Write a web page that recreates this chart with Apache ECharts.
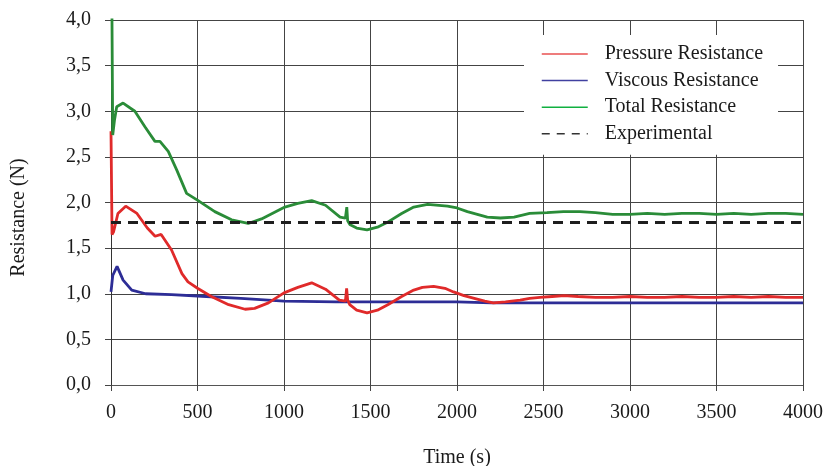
<!DOCTYPE html>
<html>
<head>
<meta charset="utf-8">
<script src="https://cdn.jsdelivr.net/npm/echarts@6/dist/echarts.min.js"></script>
<style>
html,body{margin:0;padding:0;background:#fff;}
#chart{width:823px;height:466px;}
</style>
</head>
<body>
<div id="chart"></div>
<script>
// ---- data ----
var seriesNames = ['Pressure Resistance', 'Viscous Resistance', 'Total Resistance', 'Experimental'];

var pressureT = [0, 6, 15, 40, 85, 150, 210, 255, 290, 350, 410, 445, 500, 580, 680, 775, 830, 910, 1000, 1080, 1160, 1240, 1320, 1355, 1362, 1368, 1380, 1420, 1480, 1540, 1600, 1680, 1750, 1800, 1865, 1930, 1980, 2040, 2100, 2160, 2210, 2280, 2365, 2420, 2480, 2550, 2620, 2700, 2800, 2900, 3000, 3100, 3200, 3300, 3400, 3500, 3600, 3700, 3800, 3900, 4000];
var pressureV = [2.78, 1.65, 1.68, 1.88, 1.96, 1.88, 1.72, 1.63, 1.65, 1.48, 1.22, 1.13, 1.06, 0.97, 0.88, 0.83, 0.84, 0.90, 1.01, 1.07, 1.12, 1.05, 0.93, 0.92, 1.06, 0.93, 0.88, 0.82, 0.79, 0.82, 0.88, 0.97, 1.04, 1.07, 1.08, 1.06, 1.02, 0.98, 0.95, 0.92, 0.90, 0.91, 0.93, 0.95, 0.96, 0.97, 0.98, 0.97, 0.96, 0.96, 0.97, 0.96, 0.96, 0.97, 0.96, 0.96, 0.97, 0.96, 0.97, 0.96, 0.96];

var viscousT = [0, 10, 35, 70, 120, 200, 350, 550, 750, 1000, 1300, 1500, 1700, 2000, 2200, 2500, 3000, 3500, 4000];
var viscousV = [1.02, 1.20, 1.30, 1.15, 1.04, 1.00, 0.99, 0.97, 0.95, 0.92, 0.91, 0.91, 0.91, 0.91, 0.90, 0.90, 0.90, 0.90, 0.90];

var totalT = [0, 5, 10, 20, 33, 70, 138, 196, 254, 283, 331, 379, 437, 504, 600, 697, 793, 870, 1005, 1080, 1160, 1240, 1324, 1355, 1363, 1368, 1380, 1420, 1480, 1540, 1595, 1680, 1750, 1830, 1945, 2000, 2060, 2175, 2250, 2330, 2420, 2520, 2615, 2710, 2800, 2900, 3000, 3100, 3200, 3300, 3400, 3500, 3600, 3700, 3800, 3900, 4000];
var totalV = [5.0, 4.2, 2.74, 2.9, 3.05, 3.09, 3.0, 2.83, 2.67, 2.67, 2.56, 2.36, 2.10, 2.02, 1.90, 1.81, 1.77, 1.82, 1.95, 1.99, 2.02, 1.97, 1.84, 1.83, 1.95, 1.80, 1.76, 1.72, 1.70, 1.73, 1.78, 1.88, 1.95, 1.98, 1.96, 1.94, 1.90, 1.84, 1.83, 1.84, 1.88, 1.89, 1.90, 1.90, 1.89, 1.87, 1.87, 1.88, 1.87, 1.88, 1.88, 1.87, 1.88, 1.87, 1.88, 1.88, 1.87];

var experimentalT = [0, 4000];
var experimentalV = [1.78, 1.78];

function pairs(t, v) { return t.map(function (x, i) { return [x, v[i]]; }); }

var FONT = '"Liberation Serif", "DejaVu Serif", serif';
var chart = echarts.init(document.getElementById('chart'), null, {renderer: 'canvas'});

var hideSym = {opacity: 0, borderWidth: 0};

chart.setOption({
  animation: false,
  backgroundColor: '#fff',
  grid: {left: 111, right: 20, top: 20, bottom: 81, containLabel: false, outerBoundsMode: 'none'},
  legend: {
    show: true,
    type: 'plain',
    orient: 'vertical',
    left: 524, top: 35,
    backgroundColor: '#ffffff',
    padding: [9, 15, 11, 17],
    itemWidth: 46, itemHeight: 14, itemGap: 6.6,
    textStyle: {fontFamily: FONT, fontSize: 20, color: '#1a1a1a', padding: [0, 0, 0, 12]},
    data: [
      {name: 'Pressure Resistance', itemStyle: hideSym, lineStyle: {color: '#e85050', width: 1.5}},
      {name: 'Viscous Resistance', itemStyle: hideSym, lineStyle: {color: '#4040a0', width: 1.5}},
      {name: 'Total Resistance', itemStyle: hideSym, lineStyle: {color: '#10b040', width: 1.5}},
      {name: 'Experimental', itemStyle: hideSym, lineStyle: {color: '#333', width: 1.5, type: [8, 7]}}
    ]
  },
  xAxis: {
    type: 'value', min: 0, max: 4000, interval: 500,
    name: 'Time (s)', nameLocation: 'middle', nameGap: 63,
    nameTextStyle: {fontFamily: FONT, fontSize: 20, color: '#1a1a1a'},
    axisLine: {show: true, lineStyle: {color: '#555', width: 1}},
    axisTick: {show: true, length: 6, lineStyle: {color: '#444'}},
    axisLabel: {fontFamily: FONT, fontSize: 20, color: '#1a1a1a', margin: 18,
      formatter: function (v) { return String(v); }},
    splitLine: {show: true, lineStyle: {color: '#444', width: 1}}
  },
  yAxis: {
    type: 'value', min: 0, max: 4, interval: 0.5,
    name: 'Resistance (N)', nameLocation: 'middle', nameGap: 82, nameRotate: 90,
    nameTextStyle: {fontFamily: FONT, fontSize: 20, color: '#1a1a1a', padding: [0, 30, 0, 0]},
    axisLine: {show: true, lineStyle: {color: '#333', width: 1}},
    axisTick: {show: true, length: 6, lineStyle: {color: '#444'}},
    axisLabel: {fontFamily: FONT, fontSize: 20, color: '#1a1a1a', margin: 20,
      formatter: function (v) { return v.toFixed(1).replace('.', ','); }},
    splitLine: {show: true, lineStyle: {color: '#444', width: 1}}
  },
  series: [
    {name: 'Viscous Resistance', type: 'line', data: pairs(viscousT, viscousV), symbol: 'none', clip: true,
      lineStyle: {color: '#2d2d96', width: 2.8}, itemStyle: {color: '#2d2d96'}},
    {name: 'Pressure Resistance', type: 'line', data: pairs(pressureT, pressureV), symbol: 'none', clip: true,
      lineStyle: {color: '#e02a2a', width: 2.8}, itemStyle: {color: '#e02a2a'}},
    {name: 'Total Resistance', type: 'line', data: pairs(totalT, totalV), symbol: 'none', clip: true,
      lineStyle: {color: '#2a8c38', width: 2.8}, itemStyle: {color: '#2a8c38'}},
    {name: 'Experimental', type: 'line', data: pairs(experimentalT, experimentalV), symbol: 'none', clip: true,
      lineStyle: {color: '#1e1e1e', width: 3, type: [10, 7]}, itemStyle: {color: '#1e1e1e'}}
  ]
});
</script>
</body>
</html>
